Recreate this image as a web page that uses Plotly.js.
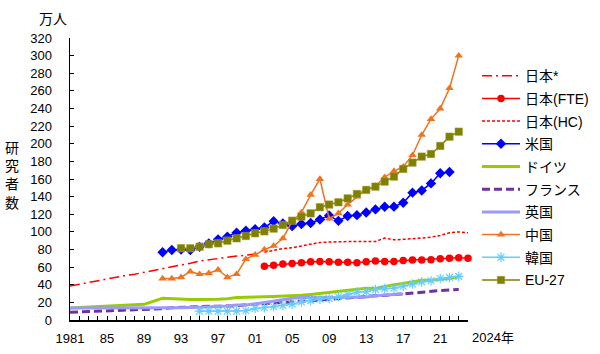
<!DOCTYPE html>
<html>
<head>
<meta charset="utf-8">
<script src="https://cdn.plot.ly/plotly-3.0.1.min.js"></script>
<style>html,body{margin:0;padding:0;background:#fff;}#chart{width:600px;height:354px;}</style>
</head>
<body>
<div id="chart"></div>
<script>
// ---- data (万人) ----
const japanStarYears = [1981,1982,1983,1984,1985,1986,1987,1988,1989,1990,1991,1992,1993,1994,1995,1996,1997,1998,1999,2000,2001];
const japanStarValues = [38.5,40.5,42.5,44.5,47,48.5,50.5,52,54,56,58,60,62,64.5,67,68.5,70,71.5,72.5,73.5,75];

const japanFteYears = [2002,2003,2004,2005,2006,2007,2008,2009,2010,2011,2012,2013,2014,2015,2016,2017,2018,2019,2020,2021,2022,2023,2024];
const japanFteValues = [61,62,63.5,64,65,66,66.5,66,65.5,65.5,65,66,67,66.5,66.5,67.5,68,68,68.5,69.5,70,70.5,70];

const japanHcYears = [2002,2003,2004,2005,2006,2007,2008,2009,2010,2011,2012,2013,2014,2015,2016,2017,2018,2019,2020,2021,2022,2023,2024];
const japanHcValues = [77,79,81,82,84,86,88,88.5,89,89,89,89,89,93,91,91.5,92,93,94,96,99,100,99];

const usYears = [1991,1992,1993,1994,1995,1996,1997,1998,1999,2000,2001,2002,2003,2004,2005,2006,2007,2008,2009,2010,2011,2012,2013,2014,2015,2016,2017,2018,2019,2020,2021,2022];
const usValues = [76.8,79.5,80,79.5,83,87,91.5,94.6,99,101.4,103,105,112,109.5,106.5,109,110,114,118.5,112.5,118,119,122,125.5,128.5,128.6,133,144.5,147,155,166.5,168];

const germanyYears = [1981,1983,1985,1987,1989,1991,1992,1993,1994,1995,1996,1997,1998,1999,2000,2001,2002,2003,2004,2005,2006,2007,2008,2009,2010,2011,2012,2013,2014,2015,2016,2017,2018,2019,2020,2021,2022,2023];
const germanyValues = [13.5,14.5,15.5,16.5,17.8,24.6,24,23.5,23.2,23.3,23.2,23.5,24,25.5,25.7,26.5,26.5,26.8,27,27.2,28,29,30.2,31.7,32.8,33.8,35.2,36,35.8,38,40,41.3,43.3,45,45,46,47,49];

const franceYears = [1981,1983,1985,1987,1989,1991,1992,1993,1994,1995,1996,1997,1998,1999,2000,2001,2002,2003,2004,2005,2006,2007,2008,2009,2010,2011,2012,2013,2014,2015,2016,2017,2018,2019,2020,2021,2022,2023];
const franceValues = [8.7,9.5,10.2,10.9,11.5,12.9,13.8,14.5,15,15.2,15.5,15.5,15.6,16,17.2,17.8,18.6,19.3,20.3,20.2,21.1,21.6,22.7,23.4,24.4,24.9,25.9,26.5,27.4,27.8,28.8,29.5,30.6,31.4,32.2,33.5,34,34.5];

const ukYears = [1981,1983,1985,1987,1989,1991,1993,1995,1997,1998,1999,2000,2001,2002,2003,2004,2005,2006,2007,2008,2009,2010,2011,2012,2013,2014,2015,2016,2017];
const ukValues = [13.5,13.5,13.5,13.5,13.5,13.5,14,14.5,15,15.8,16.9,17,18.2,19.8,21.6,22.9,24.8,25.5,25.5,25.1,25.6,25.7,25.1,25.9,26,27.4,28.5,28.9,29.5];

const chinaYears = [1991,1992,1993,1994,1995,1996,1997,1998,1999,2000,2001,2002,2003,2004,2005,2006,2007,2008,2009,2010,2011,2012,2013,2014,2015,2016,2017,2018,2019,2020,2021,2022,2023];
const chinaValues = [47,47,48.5,55,52,53,57,48.5,52,69,74,80,84,92.5,112,122,142,160,115,121,131,140,148,152,162,169,174,187,210,228,240,263,300];

const koreaYears = [1995,1996,1997,1998,1999,2000,2001,2002,2003,2004,2005,2006,2007,2008,2009,2010,2011,2012,2013,2014,2015,2016,2017,2018,2019,2020,2021,2022,2023];
const koreaValues = [10,10,10,10,10,10.5,13,14,15,16.5,18,20.5,22,23.7,24.4,26.4,28.8,31.6,32.2,34.5,35.6,36.1,38.3,40.8,43.1,44.6,47.1,48.3,49.5];

const eu27Years = [1993,1994,1995,1996,1997,1998,1999,2000,2001,2002,2003,2004,2005,2006,2007,2008,2009,2010,2011,2012,2013,2014,2015,2016,2017,2018,2019,2020,2021,2022,2023];
const eu27Values = [81.5,81.4,83.2,86,87,90,92.7,95.3,98.4,100.6,103.7,107.8,112.7,117.3,121,128,131,133.6,138,143,147.6,151.3,157,162.7,171.4,178.6,185.4,188.4,197.5,208,213.7];

const seriesNames = ["日本*","日本(FTE)","日本(HC)","米国","ドイツ","フランス","英国","中国","韓国","EU-27"];
const xTickVals = [1981,1985,1989,1993,1997,2001,2005,2009,2013,2017,2021];
const xTickText = ["1981","85","89","93","97","01","05","09","13","17","21"];
const lastYearLabel = "2024年";
const yTitleTop = "万人";
const yTitleSide = "研究者数";

// ---- traces ----
const FONT = "'Liberation Sans', Arial, 'Noto Sans CJK JP', sans-serif";
function tr(i, x, y, line, marker) {
  const t = {x: x, y: y, name: seriesNames[i], type: 'scatter', legendgroup: 'g' + i,
    mode: marker ? 'lines+markers' : 'lines', line: line, cliponaxis: false};
  if (marker) t.marker = marker;
  return t;
}
const traces = [
  tr(0, japanStarYears, japanStarValues, {color:'#FF0000', width:1.5, dash:'10px,4px,2px,4px'}),
  tr(1, japanFteYears, japanFteValues, {color:'#FF0000', width:1.5}, {symbol:'circle', size:7.5, color:'#FF0000'}),
  tr(2, japanHcYears, japanHcValues, {color:'#FF0000', width:1.5, dash:'3px,2px'}),
  tr(3, usYears, usValues, {color:'#0000FF', width:1.5}, {symbol:'diamond', size:8, color:'#0000FF'}),
  tr(4, germanyYears, germanyValues, {color:'#99CC00', width:3}),
  tr(5, franceYears, franceValues, {color:'#7030A0', width:3, dash:'8px,4px'}),
  tr(6, ukYears, ukValues, {color:'#9999FF', width:3}),
  tr(7, chinaYears, chinaValues, {color:'#EE7420', width:1.5}, {symbol:'triangle-up', size:7.5, color:'#EE7420'}),
  tr(8, koreaYears, koreaValues, {color:'#66CCFF', width:1.5}, {symbol:'asterisk-open', size:8, color:'#66CCFF', line:{color:'#66CCFF', width:1.2}}),
  tr(9, eu27Years, eu27Values, {color:'#808000', width:1.5}, {symbol:'square', size:7.5, color:'#808000', line:{color:'#A0A040', width:0.5}})
];

const layout = {
  width: 600, height: 354,
  margin: {l:70, r:132, t:38, b:34, autoexpand: false},
  paper_bgcolor: '#FFFFFF', plot_bgcolor: '#FFFFFF',
  font: {family: FONT, size: 13, color: '#000000'},
  showlegend: true,
  legend: {x: 1.0226, xanchor: 'left', y: 0.9216, yanchor: 'top', font: {family: FONT, size: 14, color:'#000'},
           traceorder: 'grouped', tracegroupgap: 1.5, itemwidth: 38, bgcolor: 'rgba(0,0,0,0)', borderwidth: 0},
  xaxis: {range: [1981, 2024], tickvals: xTickVals, ticktext: xTickText, ticks: 'inside', ticklen: 4,
          tickwidth: 1, tickcolor: '#000', showline: true, linecolor: '#000', linewidth: 1.5,
          showgrid: false, zeroline: false, tickfont: {family: FONT, size: 13, color: '#000'},
          ticklabelstandoff: 6, automargin: false,
          minor: {dtick: 1, tick0: 1981, ticks: 'inside', ticklen: 4, tickwidth: 1, tickcolor: '#000', showgrid: false}},
  yaxis: {range: [0, 320], dtick: 20, tick0: 0, ticks: 'inside', ticklen: 4, tickwidth: 1, tickcolor: '#000',
          showline: true, linecolor: '#000', linewidth: 1.5, showgrid: false, zeroline: false, automargin: false,
          tickfont: {family: FONT, size: 13, color: '#000'}, ticklabelstandoff: 14},
  annotations: [
    {text: yTitleTop, xref: 'paper', yref: 'paper', x: -0.0427, y: 1.0684, xanchor: 'center', yanchor: 'middle',
     showarrow: false, font: {family: FONT, size: 14, color: '#000'}},
    {text: yTitleSide.split('').join('<br>'), xref: 'paper', yref: 'paper', x: -0.1457, y: 0.5124,
     xanchor: 'center', yanchor: 'middle', showarrow: false, font: {family: FONT, size: 14, color: '#000'}},
    {text: lastYearLabel, xref: 'paper', yref: 'paper', x: 1.005, y: -0.0603, xanchor: 'left', yanchor: 'middle',
     showarrow: false, font: {family: FONT, size: 13, color: '#000'}}
  ]
};

Plotly.newPlot('chart', traces, layout, {displayModeBar: false, staticPlot: true});
</script>
</body>
</html>
